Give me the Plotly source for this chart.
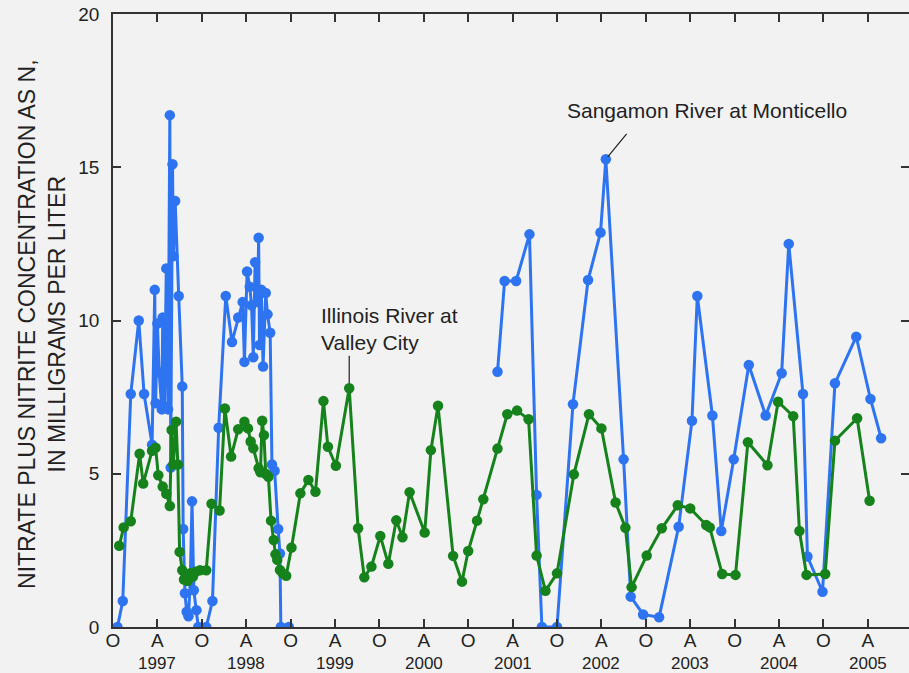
import plotly.graph_objects as go

# Sampling times (decimal years) and nitrate+nitrite concentrations (mg/L as N)
sangamon_t = [
    1996.80, 1996.86, 1996.95, 1997.04, 1997.10, 1997.19, 1997.22, 1997.23, 1997.25, 1997.27,
    1997.30, 1997.31, 1997.33, 1997.35, 1997.37, 1997.39, 1997.40, 1997.42, 1997.43, 1997.45,
    1997.49, 1997.53, 1997.54, 1997.56, 1997.58, 1997.60, 1997.62, 1997.64, 1997.66, 1997.69,
    1997.71, 1997.80, 1997.87, 1997.94, 1998.02, 1998.09, 1998.16, 1998.21, 1998.23, 1998.26,
    1998.29, 1998.31, 1998.33, 1998.35, 1998.38, 1998.39, 1998.40, 1998.42, 1998.44, 1998.47,
    1998.49, 1998.52, 1998.54, 1998.57, 1998.61, 1998.63, 1998.64, 1998.73,
    1999.90,
    2001.08, 2001.16, 2001.29, 2001.44, 2001.52, 2001.58, 2001.75, 2001.93, 2002.10, 2002.24,
    2002.30, 2002.50, 2002.58, 2002.72, 2002.90, 2003.12, 2003.27, 2003.33, 2003.50, 2003.60,
    2003.74, 2003.91, 2004.10, 2004.28, 2004.36, 2004.52, 2004.57, 2004.74, 2004.88, 2005.12,
    2005.28, 2005.40,
]
sangamon_n = [
    0.0, 0.85, 7.6, 10.0, 7.6, 5.95, 11.0, 7.3, 9.9, 8.3,
    7.1, 10.1, 7.2, 11.7, 7.1, 16.7, 5.2, 15.1, 12.1, 13.9,
    10.8, 7.85, 3.2, 1.1, 0.5, 0.35, 1.5, 4.1, 1.2, 0.55,
    0.0, 0.0, 0.85, 6.5, 10.8, 9.3, 10.1, 10.6, 8.65, 11.6,
    11.1, 10.5, 8.8, 11.9, 10.6, 12.7, 9.2, 11.0, 8.5, 10.9,
    10.2, 9.6, 5.3, 5.1, 3.2, 2.4, 0.0, 0.0,
    None,
    8.33, 11.29, 11.29, 12.81, 4.31, 0.0, 0.0, 7.27, 11.32, 12.87,
    15.26, 5.47, 0.99, 0.41, 0.32, 3.27, 6.73, 10.8, 6.9, 3.13,
    5.47, 8.55, 6.9, 8.28, 12.5, 7.6, 2.3, 1.15, 7.95, 9.47,
    7.44, 6.16,
]

illinois_t = [
    1996.82, 1996.87, 1996.95, 1997.05, 1997.09, 1997.19, 1997.23, 1997.26, 1997.31, 1997.35,
    1997.39, 1997.41, 1997.43, 1997.46, 1997.48, 1997.50, 1997.53, 1997.55, 1997.57, 1997.59,
    1997.62, 1997.65, 1997.68, 1997.73, 1997.80, 1997.86, 1997.95, 1998.01, 1998.08, 1998.16,
    1998.23, 1998.27, 1998.30, 1998.33, 1998.39, 1998.41, 1998.43, 1998.45, 1998.47, 1998.50,
    1998.53, 1998.56, 1998.58, 1998.60, 1998.63, 1998.66, 1998.70, 1998.76, 1998.86, 1998.95,
    1999.03, 1999.12, 1999.17, 1999.26, 1999.41, 1999.51, 1999.58, 1999.66, 1999.76, 1999.85,
    1999.94, 2000.01, 2000.09, 2000.26, 2000.33, 2000.41, 2000.58, 2000.68, 2000.75, 2000.85,
    2000.92, 2001.08, 2001.19, 2001.30, 2001.43, 2001.52, 2001.62, 2001.75, 2001.94, 2002.11,
    2002.25, 2002.41, 2002.52, 2002.59, 2002.76, 2002.93, 2003.11, 2003.25, 2003.43, 2003.47,
    2003.61, 2003.76, 2003.90, 2004.12, 2004.24, 2004.41, 2004.48, 2004.56, 2004.77, 2004.88,
    2005.13, 2005.27,
]
illinois_n = [
    2.65, 3.25, 3.45, 5.65, 4.68, 5.75, 5.85, 4.95, 4.58, 4.35,
    3.95, 6.43, 5.30, 6.70, 5.30, 2.45, 1.85, 1.55, 1.65, 1.50,
    1.75, 1.65, 1.80, 1.85, 1.85, 4.02, 3.80, 7.13, 5.56, 6.45,
    6.70, 6.48, 6.05, 5.83, 5.18, 5.05, 6.73, 6.26, 5.00, 4.90,
    3.47, 2.84, 2.37, 2.19, 1.86, 1.75, 1.67, 2.59, 4.36, 4.80,
    4.41, 7.37, 5.88, 5.26, 7.79, 3.22, 1.62, 1.97, 2.97, 2.06,
    3.48, 2.93, 4.40, 3.08, 5.77, 7.22, 2.32, 1.48, 2.48, 3.47,
    4.17, 5.82, 6.94, 7.06, 6.78, 2.33, 1.18, 1.75, 4.98, 6.94,
    6.48, 4.06, 3.24, 1.30, 2.33, 3.22, 3.97, 3.87, 3.33, 3.25,
    1.73, 1.70, 6.03, 5.28, 7.35, 6.88, 3.13, 1.70, 1.73, 6.08,
    6.81, 4.12,
]

tick_vals = [1996.75 + 0.5 * i for i in range(18)]
tick_text = ["O" if i % 2 == 0 else "A" for i in range(18)]
year_labels = [str(y) for y in range(1997, 2006)]
year_pos = [y + 0.25 for y in range(1997, 2006)]

y_ticks = [0, 5, 10, 15, 20]

BLUE = "#2e74f0"
GREEN = "#16821c"
BG = "#f2f2f2"
AX = "#333333"
FONT = "Liberation Sans, Arial, sans-serif"

fig = go.Figure()
fig.add_trace(go.Scatter(
    x=sangamon_t, y=sangamon_n, mode="lines+markers",
    line=dict(color=BLUE, width=3), marker=dict(color=BLUE, size=10.5),
    connectgaps=False, name="Sangamon River at Monticello",
))
fig.add_trace(go.Scatter(
    x=illinois_t, y=illinois_n, mode="lines+markers",
    line=dict(color=GREEN, width=3), marker=dict(color=GREEN, size=10.5),
    name="Illinois River at Valley City",
))

# Year labels under the April ticks
for yl, yp in zip(year_labels, year_pos):
    fig.add_annotation(x=yp, xref="x", yref="paper", y=-0.0595, text=yl,
                       showarrow=False, xanchor="center", yanchor="middle",
                       font=dict(size=17, color="#222222", family=FONT))

# Series labels
peak_i = sangamon_n.index(max(v for v in sangamon_n[59:] if v is not None))
fig.add_annotation(x=2001.84, y=16.84, text="Sangamon River at Monticello",
                   showarrow=False, xanchor="left", yanchor="middle",
                   font=dict(size=21, color="#222222", family=FONT))
fig.add_annotation(x=sangamon_t[peak_i], y=sangamon_n[peak_i], text="",
                   showarrow=True, arrowhead=0, arrowwidth=1.2, arrowcolor="#222222",
                   ax=22, ay=-27, standoff=3)

ill_peak = illinois_n.index(7.79)
fig.add_annotation(x=1999.07, y=9.72, text="Illinois River at<br>Valley City",
                   showarrow=False, xanchor="left", yanchor="middle", align="left",
                   font=dict(size=21, color="#222222", family=FONT))
fig.add_annotation(x=illinois_t[ill_peak], y=illinois_n[ill_peak], text="",
                   showarrow=True, arrowhead=0, arrowwidth=1.2, arrowcolor="#222222",
                   ax=0, ay=-34, standoff=5)

fig.add_annotation(xref="paper", yref="paper", x=-0.089, y=0.493,
                   text="NITRATE PLUS NITRITE CONCENTRATION AS N,<br>IN MILLIGRAMS PER LITER",
                   textangle=-90, showarrow=False, xanchor="center", yanchor="middle",
                   font=dict(size=23, color="#222222", family=FONT))

fig.update_layout(
    width=909, height=673,
    margin=dict(l=113, r=0, t=14, b=46, autoexpand=False),
    paper_bgcolor=BG, plot_bgcolor=BG,
    showlegend=False,
    font=dict(family=FONT, size=18, color="#222222"),
)
fig.update_xaxes(
    range=[1996.75, 1996.75 + 796 / 88.8],
    tickmode="array", tickvals=tick_vals, ticktext=tick_text,
    ticks="inside", ticklen=8, tickwidth=1.5, tickcolor=AX,
    showline=True, linecolor=AX, linewidth=1.5, mirror="ticks",
    showgrid=False, zeroline=False, tickangle=0, automargin=False,
    tickfont=dict(size=19), ticklabelstandoff=-5,
)
fig.update_yaxes(
    range=[0, 20],
    tickmode="array", tickvals=y_ticks, ticktext=[str(v) for v in y_ticks],
    ticks="inside", ticklen=8, tickwidth=1.5, tickcolor=AX,
    showline=True, linecolor=AX, linewidth=1.5, mirror="ticks",
    showgrid=False, zeroline=False, ticklabelstandoff=8, automargin=False,
    tickfont=dict(size=19),
)

fig.write_html(
    "out.html",
    config={"displayModeBar": False},
    post_script="document.body.style.margin='0';document.body.style.padding='0';document.body.style.overflow='hidden';document.body.style.background='#f2f2f2';",
)
